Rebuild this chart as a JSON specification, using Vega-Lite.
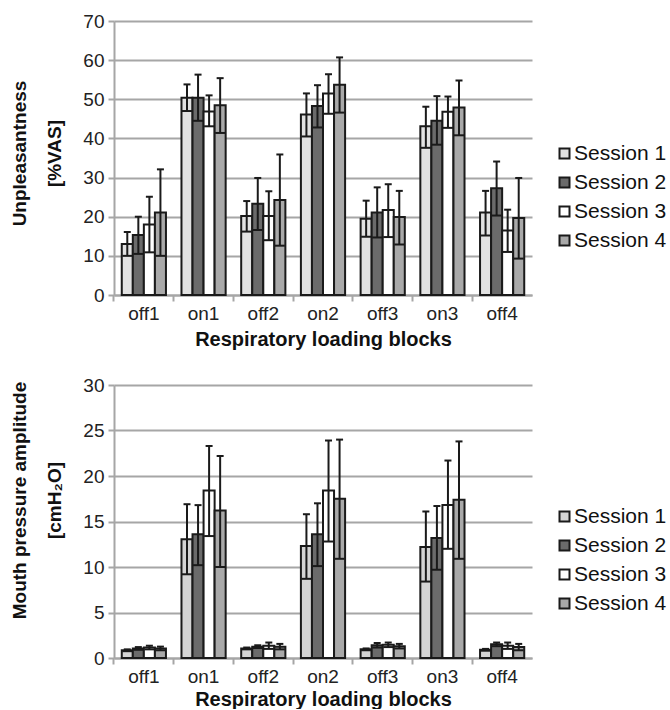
{
  "$schema": "https://vega.github.io/schema/vega-lite/v6.json",
  "padding": {"left": 10, "top": 12, "right": 0, "bottom": 0},
  "background": "white",
  "config": {
    "view": {"stroke": null},
    "font": "Liberation Sans",
    "axis": {
      "labelFont": "Liberation Sans",
      "titleFont": "Liberation Sans",
      "labelFontSize": 19,
      "labelColor": "#222222",
      "titleFontSize": 19,
      "titleFontWeight": "bold",
      "titleColor": "#111111",
      "domainColor": "#a6a6a6",
      "domainWidth": 2,
      "tickColor": "#a6a6a6",
      "tickWidth": 2,
      "tickSize": 6,
      "gridColor": "#a6a6a6",
      "gridWidth": 2
    },
    "legend": {
      "labelFont": "Liberation Sans",
      "labelFontSize": 21,
      "labelColor": "#111111"
    }
  },
  "datasets": {
    "unp": [
      {"block": "off1", "session": "Session 1", "mean": 13.0, "hi": 16.1, "lo": 10.0},
      {"block": "off1", "session": "Session 2", "mean": 15.3, "hi": 20.0, "lo": 10.5},
      {"block": "off1", "session": "Session 3", "mean": 18.0, "hi": 25.1, "lo": 10.9},
      {"block": "off1", "session": "Session 4", "mean": 21.1, "hi": 32.1, "lo": 10.0},
      {"block": "on1", "session": "Session 1", "mean": 50.4, "hi": 53.8, "lo": 47.0},
      {"block": "on1", "session": "Session 2", "mean": 50.4, "hi": 56.3, "lo": 44.5},
      {"block": "on1", "session": "Session 3", "mean": 46.9, "hi": 51.0, "lo": 43.1},
      {"block": "on1", "session": "Session 4", "mean": 48.5, "hi": 55.4, "lo": 41.4},
      {"block": "off2", "session": "Session 1", "mean": 20.2, "hi": 24.0, "lo": 16.2},
      {"block": "off2", "session": "Session 2", "mean": 23.3, "hi": 29.9, "lo": 16.6},
      {"block": "off2", "session": "Session 3", "mean": 20.2, "hi": 26.5, "lo": 14.0},
      {"block": "off2", "session": "Session 4", "mean": 24.3, "hi": 35.9, "lo": 12.6},
      {"block": "on2", "session": "Session 1", "mean": 46.1, "hi": 51.5, "lo": 40.5},
      {"block": "on2", "session": "Session 2", "mean": 48.3, "hi": 53.6, "lo": 42.8},
      {"block": "on2", "session": "Session 3", "mean": 51.5, "hi": 56.4, "lo": 46.3},
      {"block": "on2", "session": "Session 4", "mean": 53.7, "hi": 60.7, "lo": 46.6},
      {"block": "off3", "session": "Session 1", "mean": 19.5, "hi": 24.1, "lo": 14.9},
      {"block": "off3", "session": "Session 2", "mean": 21.1, "hi": 27.5, "lo": 14.7},
      {"block": "off3", "session": "Session 3", "mean": 21.7, "hi": 28.3, "lo": 14.8},
      {"block": "off3", "session": "Session 4", "mean": 19.9, "hi": 26.6, "lo": 12.9},
      {"block": "on3", "session": "Session 1", "mean": 43.1, "hi": 48.1, "lo": 37.6},
      {"block": "on3", "session": "Session 2", "mean": 44.5, "hi": 50.8, "lo": 38.4},
      {"block": "on3", "session": "Session 3", "mean": 46.8, "hi": 50.7, "lo": 42.7},
      {"block": "on3", "session": "Session 4", "mean": 47.9, "hi": 54.8, "lo": 40.8},
      {"block": "off4", "session": "Session 1", "mean": 21.1, "hi": 26.6, "lo": 15.2},
      {"block": "off4", "session": "Session 2", "mean": 27.3, "hi": 34.1, "lo": 20.3},
      {"block": "off4", "session": "Session 3", "mean": 16.5, "hi": 21.8, "lo": 11.0},
      {"block": "off4", "session": "Session 4", "mean": 19.7, "hi": 29.9, "lo": 9.3}
    ],
    "mp": [
      {"block": "off1", "session": "Session 1", "mean": 0.85, "hi": 0.95, "lo": 0.75},
      {"block": "off1", "session": "Session 2", "mean": 1.05, "hi": 1.2, "lo": 0.9},
      {"block": "off1", "session": "Session 3", "mean": 1.15, "hi": 1.35, "lo": 0.95},
      {"block": "off1", "session": "Session 4", "mean": 1.05, "hi": 1.25, "lo": 0.85},
      {"block": "on1", "session": "Session 1", "mean": 13.06, "hi": 16.9, "lo": 9.2},
      {"block": "on1", "session": "Session 2", "mean": 13.6, "hi": 16.8, "lo": 10.2},
      {"block": "on1", "session": "Session 3", "mean": 18.4, "hi": 23.3, "lo": 13.4},
      {"block": "on1", "session": "Session 4", "mean": 16.2, "hi": 22.2, "lo": 10.0},
      {"block": "off2", "session": "Session 1", "mean": 1.05, "hi": 1.15, "lo": 0.95},
      {"block": "off2", "session": "Session 2", "mean": 1.25, "hi": 1.4, "lo": 1.1},
      {"block": "off2", "session": "Session 3", "mean": 1.35, "hi": 1.7, "lo": 1.0},
      {"block": "off2", "session": "Session 4", "mean": 1.25, "hi": 1.55, "lo": 0.95},
      {"block": "on2", "session": "Session 1", "mean": 12.3, "hi": 15.8, "lo": 8.7},
      {"block": "on2", "session": "Session 2", "mean": 13.6, "hi": 17.0, "lo": 10.1},
      {"block": "on2", "session": "Session 3", "mean": 18.4, "hi": 23.9, "lo": 12.8},
      {"block": "on2", "session": "Session 4", "mean": 17.5, "hi": 24.0, "lo": 10.9},
      {"block": "off3", "session": "Session 1", "mean": 0.95, "hi": 1.05, "lo": 0.85},
      {"block": "off3", "session": "Session 2", "mean": 1.4, "hi": 1.65, "lo": 1.15},
      {"block": "off3", "session": "Session 3", "mean": 1.45, "hi": 1.7, "lo": 1.2},
      {"block": "off3", "session": "Session 4", "mean": 1.3, "hi": 1.55, "lo": 1.05},
      {"block": "on3", "session": "Session 1", "mean": 12.2, "hi": 16.1, "lo": 8.4},
      {"block": "on3", "session": "Session 2", "mean": 13.2, "hi": 16.7, "lo": 9.7},
      {"block": "on3", "session": "Session 3", "mean": 16.8, "hi": 21.7, "lo": 12.0},
      {"block": "on3", "session": "Session 4", "mean": 17.4, "hi": 23.8, "lo": 10.9},
      {"block": "off4", "session": "Session 1", "mean": 0.9, "hi": 1.0, "lo": 0.8},
      {"block": "off4", "session": "Session 2", "mean": 1.5, "hi": 1.7, "lo": 1.3},
      {"block": "off4", "session": "Session 3", "mean": 1.35, "hi": 1.7, "lo": 1.0},
      {"block": "off4", "session": "Session 4", "mean": 1.2, "hi": 1.55, "lo": 0.85}
    ]
  },
  "spacing": 27,
  "resolve": {"scale": {"color": "independent"}, "legend": {"color": "independent"}},
  "vconcat": [
    {
      "width": 418,
      "height": 274,
      "data": {"name": "unp"},
      "encoding": {
        "x": {
          "field": "block", "type": "nominal",
          "sort": ["off1", "on1", "off2", "on2", "off3", "on3", "off4"],
          "scale": {"paddingInner": 0.26, "paddingOuter": 0.13},
          "title": "Respiratory loading blocks",
          "axis": {"labelAngle": 0, "bandPosition": -0.1757, "grid": false, "titlePadding": 6, "titleFontSize": 20, "labelPadding": 3}
        },
        "xOffset": {
          "field": "session", "type": "nominal",
          "sort": ["Session 1", "Session 2", "Session 3", "Session 4"],
          "scale": {"paddingInner": 0, "paddingOuter": 0}
        }
      },
      "layer": [
        {
          "mark": {"type": "bar", "stroke": "#1a1a1a", "strokeWidth": 2},
          "encoding": {
            "y": {
              "field": "mean", "type": "quantitative",
              "scale": {"domain": [0, 70], "nice": false},
              "title": ["Unpleasantness", "[%VAS]"],
              "axis": {"values": [0, 10, 20, 30, 40, 50, 60, 70], "titlePadding": 18, "titleLineHeight": 35, "labelPadding": 4, "titleY": 132}
            },
            "color": {
              "field": "session", "type": "nominal",
              "sort": ["Session 1", "Session 2", "Session 3", "Session 4"],
              "scale": {"domain": ["Session 1", "Session 2", "Session 3", "Session 4"], "range": ["#e2e2e2", "#6b6b6b", "#ffffff", "#a9a9a9"]},
              "legend": {
                "title": null, "orient": "none", "legendX": 440, "legendY": 122,
                "symbolType": "square", "symbolSize": 100, "symbolStrokeColor": "#1a1a1a", "symbolStrokeWidth": 2,
                "rowPadding": 7, "labelOffset": -1, "padding": 0
              }
            }
          }
        },
        {
          "mark": {"type": "rule", "color": "#1a1a1a", "strokeWidth": 2},
          "encoding": {
            "y": {"field": "lo", "type": "quantitative", "title": ["Unpleasantness", "[%VAS]"],
              "axis": {"values": [0, 10, 20, 30, 40, 50, 60, 70], "titlePadding": 18, "titleLineHeight": 35, "labelPadding": 4, "titleY": 132}},
            "y2": {"field": "hi"}
          }
        },
        {
          "mark": {"type": "tick", "color": "#1a1a1a", "thickness": 2, "size": 7, "opacity": 1},
          "encoding": {"y": {"field": "hi", "type": "quantitative", "title": ["Unpleasantness", "[%VAS]"],
            "axis": {"values": [0, 10, 20, 30, 40, 50, 60, 70], "titlePadding": 18, "titleLineHeight": 35, "labelPadding": 4, "titleY": 132}}}
        },
        {
          "mark": {"type": "tick", "color": "#1a1a1a", "thickness": 2, "size": 10, "opacity": 1},
          "encoding": {"y": {"field": "lo", "type": "quantitative", "title": ["Unpleasantness", "[%VAS]"],
            "axis": {"values": [0, 10, 20, 30, 40, 50, 60, 70], "titlePadding": 18, "titleLineHeight": 35, "labelPadding": 4, "titleY": 132}}}
        }
      ]
    },
    {
      "width": 418,
      "height": 273,
      "data": {"name": "mp"},
      "encoding": {
        "x": {
          "field": "block", "type": "nominal",
          "sort": ["off1", "on1", "off2", "on2", "off3", "on3", "off4"],
          "scale": {"paddingInner": 0.26, "paddingOuter": 0.13},
          "title": "Respiratory loading blocks",
          "axis": {"labelAngle": 0, "bandPosition": -0.1757, "grid": false, "titlePadding": 3, "titleFontSize": 20, "labelPadding": 3}
        },
        "xOffset": {
          "field": "session", "type": "nominal",
          "sort": ["Session 1", "Session 2", "Session 3", "Session 4"],
          "scale": {"paddingInner": 0, "paddingOuter": 0}
        }
      },
      "layer": [
        {
          "mark": {"type": "bar", "stroke": "#1a1a1a", "strokeWidth": 2},
          "encoding": {
            "y": {
              "field": "mean", "type": "quantitative",
              "scale": {"domain": [0, 30], "nice": false},
              "title": ["Mouth pressure amplitude", "[cmH₂O]"],
              "axis": {"values": [0, 5, 10, 15, 20, 25, 30], "titlePadding": 18, "titleLineHeight": 35, "labelPadding": 4, "titleY": 115}
            },
            "color": {
              "field": "session", "type": "nominal",
              "sort": ["Session 1", "Session 2", "Session 3", "Session 4"],
              "scale": {"domain": ["Session 1", "Session 2", "Session 3", "Session 4"], "range": ["#d4d4d4", "#6b6b6b", "#ffffff", "#a9a9a9"]},
              "legend": {
                "title": null, "orient": "none", "legendX": 440, "legendY": 121,
                "symbolType": "square", "symbolSize": 100, "symbolStrokeColor": "#1a1a1a", "symbolStrokeWidth": 2,
                "rowPadding": 7, "labelOffset": -1, "padding": 0
              }
            }
          }
        },
        {
          "mark": {"type": "rule", "color": "#1a1a1a", "strokeWidth": 2},
          "encoding": {
            "y": {"field": "lo", "type": "quantitative", "title": ["Mouth pressure amplitude", "[cmH₂O]"],
              "axis": {"values": [0, 5, 10, 15, 20, 25, 30], "titlePadding": 18, "titleLineHeight": 35, "labelPadding": 4, "titleY": 115}},
            "y2": {"field": "hi"}
          }
        },
        {
          "mark": {"type": "tick", "color": "#1a1a1a", "thickness": 2, "size": 7, "opacity": 1},
          "encoding": {"y": {"field": "hi", "type": "quantitative", "title": ["Mouth pressure amplitude", "[cmH₂O]"],
            "axis": {"values": [0, 5, 10, 15, 20, 25, 30], "titlePadding": 18, "titleLineHeight": 35, "labelPadding": 4, "titleY": 115}}}
        },
        {
          "mark": {"type": "tick", "color": "#1a1a1a", "thickness": 2, "size": 10, "opacity": 1},
          "encoding": {"y": {"field": "lo", "type": "quantitative", "title": ["Mouth pressure amplitude", "[cmH₂O]"],
            "axis": {"values": [0, 5, 10, 15, 20, 25, 30], "titlePadding": 18, "titleLineHeight": 35, "labelPadding": 4, "titleY": 115}}}
        }
      ]
    }
  ]
}
